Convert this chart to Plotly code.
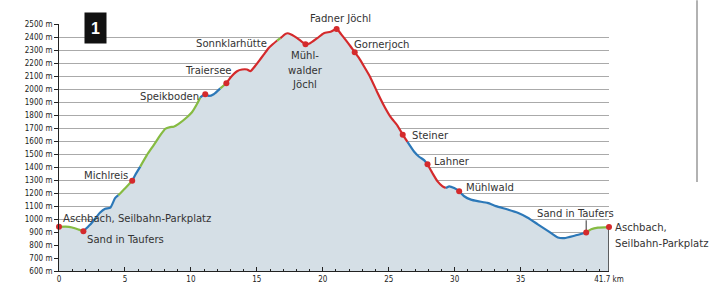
import numpy as np
import plotly.graph_objects as go

# ---- data -------------------------------------------------------------
km = [0.0, 0.5, 1.0, 1.5, 1.85, 2.35, 2.8, 3.1, 3.5, 3.9, 4.25, 4.5, 5.0, 5.55,
      5.78, 6.16, 6.66, 7.17, 7.67, 8.05, 8.43, 8.69, 9.07, 9.7, 10.08, 10.46,
      10.71, 10.9, 11.09, 11.35, 11.73, 12.23, 12.69, 12.99, 13.5, 13.88, 14.26,
      14.51, 14.76, 15.14, 15.52, 15.9, 16.16, 16.54, 16.79, 17.17, 17.35, 17.68,
      18.06, 18.4, 18.69, 19.0, 19.58, 20.08, 20.59, 21.05, 21.4, 21.73, 22.11,
      22.42, 22.74, 23.12, 23.58, 24.14, 24.64, 25.15, 25.66, 26.06, 26.42, 26.93,
      27.3, 27.68, 27.94, 28.32, 28.7, 29.08, 29.33, 29.58, 29.96, 30.34, 30.72,
      31.23, 31.74, 32.5, 33.13, 34.02, 34.78, 35.54, 36.3, 37.06, 37.82, 38.32,
      39.08, 39.97, 40.35, 40.86, 41.7]
elev = [940, 942, 935, 918, 906, 955, 1010, 1048, 1079, 1088, 1160, 1183, 1235, 1294,
        1339, 1403, 1491, 1567, 1643, 1694, 1707, 1710, 1732, 1783, 1821, 1884,
        1935, 1950, 1960, 1947, 1960, 2005, 2044, 2087, 2137, 2150, 2150,
        2137, 2163, 2213, 2264, 2315, 2340, 2373, 2391, 2424, 2429, 2416,
        2391, 2365, 2345, 2350, 2391, 2429, 2441, 2462, 2420, 2378, 2327,
        2282, 2239, 2175, 2095, 1973, 1871, 1783, 1719, 1649, 1593, 1517,
        1479, 1453, 1421, 1352, 1289, 1251, 1238, 1251, 1238, 1213, 1175,
        1149, 1137, 1124, 1099, 1073, 1048, 1010, 959, 909, 858, 853,
        871, 896, 921, 934, 938]

seg_bounds = [0.0, 1.85, 4.5, 5.55, 6.16, 10.71, 12.23, 12.69, 16.54, 16.79,
              26.42, 27.94, 29.33, 39.97, 41.7]
seg_kind = ["green", "blue", "green", "blue", "green", "blue", "green", "red",
            "green", "red", "blue", "red", "blue", "green"]

way_km = [0.0, 1.85, 5.55, 11.09, 12.69, 18.69, 21.05, 22.42, 26.06, 27.94,
          30.34, 39.97, 41.7]

y_ticks = list(range(600, 2501, 100))
y_ticktext = [f"{v} m" for v in y_ticks]
x_ticks = [0, 5, 10, 15, 20, 25, 30, 35, 41.7]
x_ticktext = ["0", "5", "10", "15", "20", "25", "30", "35", "41.7 km"]

# labels inside the plot range (data coordinates)
labels = ["Aschbach, Seilbahn-Parkplatz", "Sand in Taufers", "Michlreis", "Speikboden",
          "Traiersee", "Sonnklarhütte", "Gornerjoch", "Steiner",
          "Lahner", "Mühlwald", "Sand in Taufers", "Mühl-<br>walder<br>Jöchl"]
label_x = [0.15, 1.95, 1.77, 6.0, 9.37, 10.25, 22.25, 26.59, 28.28, 30.7, 36.11, 18.71]
label_y = [1005, 841, 1335, 1943, 2145, 2353, 2340, 1643, 1441, 1244, 1041, 2150]
label_anchor = ["left"] * 11 + ["center"]

# labels outside the plot range (mixed / paper coordinates)
top_label, top_x, top_y = "Fadner Jöchl", 18.89, 1.023
end_labels = ["Aschbach,", "Seilbahn-Parkplatz"]
end_x = 1.007
end_y = [934, 813]

# ---- styles -----------------------------------------------------------
COL = {"red": "#d42a2c", "green": "#86bb42", "blue": "#2c78b8"}
FONT = "Liberation Sans Narrow, Arial Narrow, DejaVu Sans Condensed, sans-serif"
TXT = "#333333"
FS = 11.2

kma = np.array(km)
ela = np.array(elev)

fig = go.Figure()
fig.add_trace(go.Scatter(x=kma, y=ela, mode="lines", fill="tozeroy",
                         fillcolor="#d5dfe6", line=dict(width=0, color="#d5dfe6"),
                         hoverinfo="skip", showlegend=False))
fig.add_trace(go.Scatter(x=[kma[-1], kma[-1]], y=[600, ela[-1]], mode="lines",
                         line=dict(color="#333333", width=1.5), showlegend=False))
for a, b, kind in zip(seg_bounds[:-1], seg_bounds[1:], seg_kind):
    m = (kma >= a - 1e-9) & (kma <= b + 1e-9)
    fig.add_trace(go.Scatter(x=kma[m], y=ela[m], mode="lines",
                             line=dict(color=COL[kind], width=2.2, shape="spline",
                                       smoothing=0.5),
                             showlegend=False))
i_st = int(np.argmin(np.abs(kma - 39.97)))
fig.add_trace(go.Scatter(x=[kma[i_st], kma[i_st]], y=[ela[i_st], 990], mode="lines",
                         line=dict(color="#333333", width=1), showlegend=False))
wy = [ela[int(np.argmin(np.abs(kma - w)))] for w in way_km]
fig.add_trace(go.Scatter(x=way_km, y=wy, mode="markers",
                         marker=dict(color=COL["red"], size=6), cliponaxis=False,
                         showlegend=False))

for t, x, y, a in zip(labels, label_x, label_y, label_anchor):
    fig.add_annotation(x=x, y=y, text=t, showarrow=False, xanchor=a,
                       yanchor="middle", font=dict(family=FONT, size=FS, color=TXT))
fig.add_annotation(x=top_x, y=top_y, yref="paper", text=top_label, showarrow=False,
                   xanchor="left", yanchor="middle",
                   font=dict(family=FONT, size=FS, color=TXT))
for t, y in zip(end_labels, end_y):
    fig.add_annotation(x=end_x, xref="paper", y=y, text=t, showarrow=False,
                       xanchor="left", yanchor="middle",
                       font=dict(family=FONT, size=FS, color=TXT))

# "1" box
fig.add_annotation(xref="paper", yref="paper", x=0.0664, y=0.984, text="<b>1</b>",
                   showarrow=False, width=21, height=30, bgcolor="#111111",
                   borderpad=0, xanchor="center", yanchor="middle",
                   font=dict(family="Liberation Sans, Arial", size=16, color="white"))
# page rule on the right
fig.add_shape(type="line", xref="paper", yref="paper", x0=1.16, x1=1.16, y0=0.36,
              y1=1.096, line=dict(color="#999999", width=1.5))

fig.update_layout(
    width=712, height=296, margin=dict(l=59, r=103, t=24, b=22),
    paper_bgcolor="white", plot_bgcolor="white",
    xaxis=dict(range=[0, 41.7], tickmode="array", tickvals=x_ticks,
               ticktext=x_ticktext, ticks="inside", ticklen=4, tickcolor="#222",
               showgrid=False, showline=True, linecolor="#222", linewidth=1,
               zeroline=False, tickfont=dict(family=FONT, size=8, color="#222"),
               minor=dict(tickvals=list(range(0, 42)), ticks="inside", ticklen=2,
                          tickcolor="#222", showgrid=False)),
    yaxis=dict(range=[600, 2500], tickmode="array", tickvals=y_ticks,
               ticktext=y_ticktext, ticks="outside", ticklen=4, tickcolor="#222",
               showgrid=True, gridcolor="#aaaaaa", gridwidth=1,
               showline=True, linecolor="#222", linewidth=1, zeroline=False,
               tickfont=dict(family=FONT, size=8, color="#222")),
)

fig.write_html("out.html")
